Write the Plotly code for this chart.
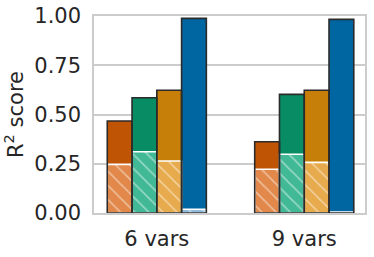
import plotly.graph_objects as go

categories = ["6 vars", "9 vars"]
cat_pos = [0, 1]
# total R2 per model (dark bars)
total_orange = [0.467, 0.362]
total_green = [0.585, 0.602]
total_yellow = [0.623, 0.623]
total_blue = [0.988, 0.983]
# hatched part per model
part_orange = [0.247, 0.222]
part_green = [0.311, 0.298]
part_yellow = [0.264, 0.257]
part_blue = [0.019, 0.005]
y_ticks = [0.0, 0.25, 0.5, 0.75, 1.0]
y_ticklabels = ["0.00", "0.25", "0.50", "0.75", "1.00"]

dark_colors = ["#bf5405", "#078c64", "#c67f08", "#0066a1"]
light_colors = ["#e1884a", "#42b996", "#e7aa4c", "#8fbcdc"]
totals = [total_orange, total_green, total_yellow, total_blue]
parts = [part_orange, part_green, part_yellow, part_blue]

w = 0.168
fig = go.Figure()
for i, vals in enumerate(totals):
    fig.add_trace(go.Bar(x=cat_pos, y=vals, width=w, offset=-2 * w + i * w,
                         marker=dict(color=dark_colors[i], line=dict(width=0)),
                         showlegend=False, hoverinfo="skip"))
for i, vals in enumerate(parts):
    fig.add_trace(go.Bar(x=cat_pos, y=vals, width=w, offset=-2 * w + i * w,
                         marker=dict(color=light_colors[i],
                                     line=dict(width=1.6, color="white"),
                                     pattern=dict(shape="\\", fgcolor="white",
                                                  size=10, solidity=0.15)),
                         showlegend=False, hoverinfo="skip"))
for i, vals in enumerate(totals):
    fig.add_trace(go.Bar(x=cat_pos, y=vals, width=w, offset=-2 * w + i * w,
                         marker=dict(color="rgba(0,0,0,0)",
                                     line=dict(width=1.6, color="#2b2b2b")),
                         showlegend=False, hoverinfo="skip"))

fig.update_layout(
    barmode="overlay",
    width=374, height=257,
    margin=dict(l=94, r=9, t=16, b=44),
    paper_bgcolor="white", plot_bgcolor="white",
    font=dict(family="DejaVu Sans", size=21, color="#262626"),
)
fig.update_xaxes(range=[-0.426, 1.412], tickvals=cat_pos, ticktext=categories,
                 automargin=False,
                 showgrid=False, zeroline=False, showline=True, mirror=True,
                 linecolor="#cccccc", linewidth=1.5, ticks="outside",
                 ticklen=6, tickcolor="rgba(0,0,0,0)",
                 tickfont=dict(size=21, color="#262626"))
fig.update_yaxes(range=[0, 1.0], tickvals=y_ticks, ticktext=y_ticklabels,
                 automargin=False, ticklabeloverflow="allow",
                 showgrid=True, gridcolor="#cccccc", gridwidth=1.5,
                 zeroline=False, showline=True, mirror=True,
                 linecolor="#cccccc", linewidth=1.5, ticks="outside",
                 ticklen=7, tickcolor="rgba(0,0,0,0)",
                 tickfont=dict(size=21, color="#262626"),
                 title=dict(text="R<sup>2</sup> score", standoff=15,
                            font=dict(size=21, color="#262626")))

fig.write_html("out.html", config={"displayModeBar": False},
               post_script="document.body.style.margin='0';document.body.style.overflow='hidden';")
